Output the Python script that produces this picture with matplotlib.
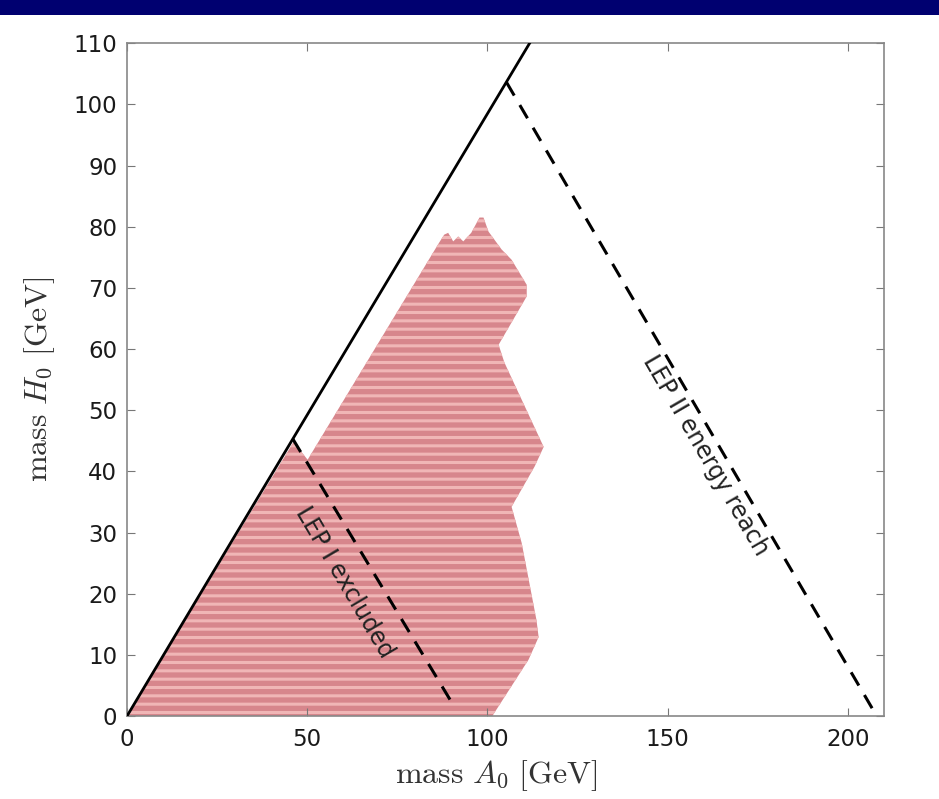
import matplotlib
matplotlib.use("Agg")
import matplotlib.pyplot as plt
from matplotlib.patches import Polygon, Rectangle

plt.rcParams['mathtext.fontset'] = 'cm'
plt.rcParams['font.family'] = ['DejaVu Sans']
plt.rcParams['hatch.linewidth'] = 2.2

# excluded region boundary (mass A0, mass H0) in GeV
region_A = [0, 46.2, 50.1, 86.6, 88.0, 89.1, 90.5, 91.9, 93.3, 95.5, 97.8, 98.9,
            100.3, 103.9, 106.7, 110.9, 110.9, 103.1, 104.7, 115.6, 113.1, 106.7,
            109.5, 113.6, 114.2, 111.4, 101.9, 101.4]
region_H = [0, 44.8, 41.9, 77.4, 78.7, 79.0, 77.6, 78.4, 77.6, 79.0, 81.5, 81.5,
            79.2, 76.3, 74.6, 70.5, 68.6, 60.7, 57.8, 44.0, 40.8, 34.2,
            28.3, 15.7, 12.9, 9.2, 0.5, 0]

# kinematic limit line
diag_A = [0, 111.7]
diag_H = [0, 110]

# LEP I excluded line
lep1_A = [46.0, 90.0]
lep1_H = [45.3, 2.3]

# LEP II energy reach line
lep2_A = [105.3, 207.0]
lep2_H = [103.6, 1.0]

xticks = [0, 50, 100, 150, 200]
yticks = list(range(0, 111, 10))

fig = plt.figure(figsize=(9.39, 7.99), dpi=100)
fig.patches.append(Rectangle((0, 1 - 15 / 799), 1, 15 / 799, transform=fig.transFigure,
                             facecolor='#000070', edgecolor='none', zorder=10))

ax = fig.add_axes([0.1353, 0.1039, 0.806, 0.842])

poly = Polygon(list(zip(region_A, region_H)), closed=True, facecolor='#d7868c',
               edgecolor='#f0b6b6', linewidth=0, hatch='--', zorder=1)
ax.add_patch(poly)

ax.plot(diag_A, diag_H, '-', color='black', lw=2.0, zorder=3)
ax.plot(lep1_A, lep1_H, '--', color='black', lw=2.2, dashes=(5, 3.6), zorder=3)
ax.plot(lep2_A, lep2_H, '--', color='black', lw=2.2, dashes=(5, 3.6), zorder=3)

ax.text(60.3, 21.9, 'LEP I excluded', rotation=-59.5, ha='center', va='center',
        fontsize=17, color='#222222')
ax.text(160.6, 42.7, 'LEP II energy reach', rotation=-59.8, ha='center', va='center',
        fontsize=17, color='#222222')

ax.set_xlim(0, 210)
ax.set_ylim(0, 110)
ax.set_xticks(xticks)
ax.set_yticks(yticks)
ax.tick_params(direction='in', top=True, right=True, length=6, width=0.8,
               color='#777777', labelsize=16.5, labelcolor='#1a1a1a')
ax.tick_params(axis='x', pad=9)
ax.tick_params(axis='y', pad=7)
for s in ax.spines.values():
    s.set_color('#888888')
    s.set_linewidth(1.2)

ax.set_xlabel(r'$\mathrm{mass}\ A_0\ [\mathrm{GeV}]$', fontsize=23, color='#333333')
ax.set_ylabel(r'$\mathrm{mass}\ H_0\ [\mathrm{GeV}]$', fontsize=23, labelpad=12,
              color='#333333')
ax.xaxis.set_label_coords(0.488, -0.062)

fig.savefig('out.png', dpi=100)
